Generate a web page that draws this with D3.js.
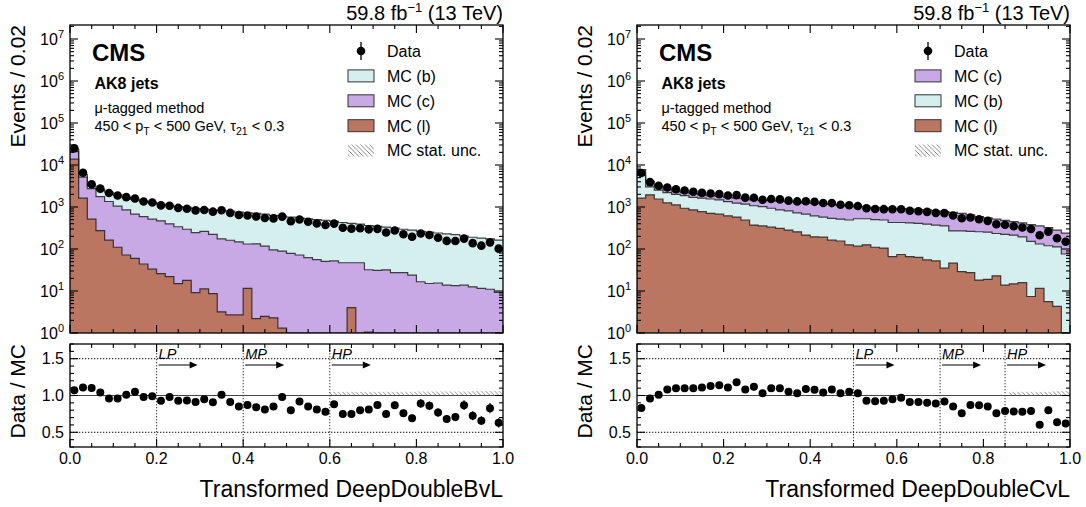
<!DOCTYPE html>
<html><head><meta charset="utf-8">
<script src="https://cdn.jsdelivr.net/npm/d3@7"></script>
<style>
body{margin:0;background:#fff}
svg{display:block}
text{font-family:"Liberation Sans",Arial,Helvetica,sans-serif;fill:#000}
</style>
</head><body>
<svg id="c" width="1086" height="507"></svg>
<script>
// ---------------- data ----------------
const xEdges = d3.range(51).map(i => +(i * 0.02).toFixed(2));
const xTickLabels = ["0.0", "0.2", "0.4", "0.6", "0.8", "1.0"];
const logTickExps = [0, 1, 2, 3, 4, 5, 6, 7];
const ratioTickLabels = ["0.5", "1.0", "1.5"];
const wpLabels = ["LP", "MP", "HP"];

// DeepDoubleBvL panel
const bvl_l = [13800,1620,513,275,162,110,72,60,44,33, 26,22,15,18,9.1,11.2,8.7,3.2,2.7,2.7,
  11.5,2.2,2.5,2.3,1.3,0,0,0,0,0, 0,0,4.0,0,1.05,0,0,0,0,0, 0,0,0,0,0,0,0,0,0,0];
const bvl_c = [7090,3510,2240,1500,1190,937,779,616,545,480, 442,376,324,277,236,252,215,171,159,145,
  120,130,115,93,88,79,72,62,56,51, 52,47,43,47,31,31,32,27.5,27.5,24, 16.6,15.1,15.5,13.8,13.5,13.8,12.6,11.5,11,9.3];
const bvl_b = [2550,759,408,852,890,903,847,838,791,775, 707,698,684,682,667,628,627,658,632,611,
  592,576,559,536,514,496,478,463,445,428, 405,380,360,342,331,316,299,289,268,258, 246,236,225,215,206,190,178,171,163,153];
const bvl_data = [25080,6536,3478,2735,2149,1872,1715,1590,1352,1275, 1093,1074,951,909,830,846,774,840,723,645,
  630,595,548,536,591,460,506,446,406,374, 402,320,305,311,294,302,248,275,224,195, 234,216,185,156,155,177,138,120,144,102];
const bvl_unc = [0,0,0,0,0,0,0,0,0,0, 0,0,0,0,0,0,0,0,0,0, 0,0,0,0,0,0,0,0,0,0,
  0.05,0.05,0.05,0.05,0.05,0.05,0.05,0.05,0.05,0.05, 0.055,0.055,0.055,0.055,0.055,0.055,0.06,0.06,0.06,0.06];
const bvl_wp = [0.2, 0.4, 0.6];

// DeepDoubleCvL panel
const cvl_l = [1622,1950,1549,1259,1122,933,851,776,708,676, 617,575,490,372,355,331,309,282,257,214,
  195,191,162,155,126,117,126,110,105,66, 74,66,63,55,52,35,46,29,27.5,18.2, 19,23,13.8,14.8,15.8,7.4,11.5,5.6,4.3,0];
const cvl_b = [4000,1070,963,929,873,929,847,846,841,803, 732,655,685,700,668,602,542,531,467,462,
  422,384,375,358,364,408,399,391,385,361, 353,351,344,334,320,320,223,240,236,239, 232,211,210,199,179,144,120,114,108,76];
const cvl_c = [2140,1054,650,504,404,377,391,328,313,299, 349,392,374,407,422,480,529,536,594,583,
  613,627,611,583,557,498,475,476,465,506, 485,474,464,462,441,421,472,439,383,332, 299,279,255,233,222,229,223,204,170,164];
const cvl_data = [6442,3911,3194,2907,2639,2463,2298,2165,2104,2027, 1885,1914,1673,1656,1488,1554,1518,1416,1358,1372,
  1328,1250,1240,1129,1099,1054,930,899,888,886, 885,811,793,766,724,714,630,538,562,512, 468,390,378,349,325,300,213,259,180,149];
const cvl_unc = [0,0,0,0,0,0,0,0,0,0, 0,0,0,0,0,0,0,0,0,0, 0,0,0,0,0,0,0,0,0,0,
  0,0,0,0,0,0,0,0,0,0, 0,0,0,0.05,0.05,0.05,0.05,0.05,0.06,0.06];
const cvl_wp = [0.5, 0.7, 0.85];

const COL_B = "#d4efed", COL_C = "#c8a8e5", COL_L = "#bb7662";

// ---------------- drawing ----------------
const svg = d3.select("#c");
const defs = svg.append("defs");
defs.append("pattern").attr("id", "hatch").attr("patternUnits", "userSpaceOnUse")
  .attr("width", 4.5).attr("height", 4.5)
  .append("path").attr("d", "M-1,-1L5.5,5.5M-1,3.5L1,5.5M3.5,-1L5.5,1")
  .attr("stroke", "#777").attr("stroke-width", 0.9).attr("fill", "none");

const MT = 25, MB = 333, RT = 344, RB = 447;

function supText(sel, base, sup, supSize) {
  sel.append("tspan").text(base);
  sel.append("tspan").attr("dy", -7).attr("font-size", supSize).text(sup);
}

function drawPanel(cfg) {
  const x = d3.scaleLinear().domain([0, 1]).range([cfg.x0, cfg.x1]);
  const y = d3.scaleLog().domain([1, Math.pow(10, (MB - MT) / 42)]).range([MB, MT]);
  const yr = d3.scaleLinear().domain([0.3, 1.7]).range([RB, RT]);
  const g = svg.append("g");
  const cid = "clip" + cfg.id;
  defs.append("clipPath").attr("id", cid).append("rect")
    .attr("x", cfg.x0).attr("y", MT).attr("width", cfg.x1 - cfg.x0).attr("height", MB - MT);
  const cidr = "clipr" + cfg.id;
  defs.append("clipPath").attr("id", cidr).append("rect")
    .attr("x", cfg.x0).attr("y", RT).attr("width", cfg.x1 - cfg.x0).attr("height", RB - RT);

  const layers = cfg.layers;
  let cum = new Array(50).fill(0);
  const cums = layers.map(L => { cum = cum.map((c, i) => c + L.values[i]); return cum.slice(); });
  const total = cums[cums.length - 1];
  const yc = v => y(Math.max(v, 1));
  const pts = arr => { const p = arr.map((v, i) => [xEdges[i], v]); p.push([xEdges[50], arr[49]]); return p; };
  const area = d3.area().curve(d3.curveStepAfter).x(d => x(d[0])).y0(MB).y1(d => yc(d[1]));
  const line = d3.line().curve(d3.curveStepAfter).x(d => x(d[0])).y(d => yc(d[1]));

  const mg = g.append("g").attr("clip-path", `url(#${cid})`);
  for (let k = layers.length - 1; k >= 0; k--) {
    mg.append("path").attr("d", area(pts(cums[k]))).attr("fill", layers[k].color);
  }
  for (let k = 0; k < layers.length; k++) {
    mg.append("path").attr("d", line(pts(cums[k]))).attr("fill", "none")
      .attr("stroke", "#222").attr("stroke-width", 1.2).attr("stroke-opacity", 0.85);
  }
  // data points
  const cx = i => x((xEdges[i] + xEdges[i + 1]) / 2);
  cfg.data.forEach((v, i) => {
    const e = Math.sqrt(v);
    mg.append("line").attr("x1", cx(i)).attr("x2", cx(i)).attr("y1", yc(v + e)).attr("y2", yc(v - e))
      .attr("stroke", "#000").attr("stroke-width", 1.2);
    mg.append("circle").attr("cx", cx(i)).attr("cy", y(v)).attr("r", 4.3).attr("fill", "#000");
  });

  // ratio panel
  const rg = g.append("g").attr("clip-path", `url(#${cidr})`);
  cfg.unc.forEach((u, i) => {
    if (u > 0) rg.append("rect").attr("x", x(xEdges[i])).attr("width", x(xEdges[i + 1]) - x(xEdges[i]))
      .attr("y", yr(1 + u)).attr("height", yr(1) - yr(1 + u)).attr("fill", "url(#hatch)");
  });
  [0.5, 1.5].forEach(v => rg.append("line").attr("x1", cfg.x0).attr("x2", cfg.x1).attr("y1", yr(v)).attr("y2", yr(v))
    .attr("stroke", "#000").attr("stroke-width", 1).attr("stroke-dasharray", "1.3,1.7"));
  rg.append("line").attr("x1", cfg.x0).attr("x2", cfg.x1).attr("y1", yr(1)).attr("y2", yr(1))
    .attr("stroke", "#444").attr("stroke-width", 1.2);
  cfg.wp.forEach((w, j) => {
    rg.append("line").attr("x1", x(w)).attr("x2", x(w)).attr("y1", RT).attr("y2", RB)
      .attr("stroke", "#333").attr("stroke-width", 1).attr("stroke-dasharray", "1.3,1.7");
    g.append("text").attr("x", x(w) + 2).attr("y", 359).attr("font-size", 14.5).attr("font-style", "italic")
      .text(wpLabels[j]);
    g.append("line").attr("x1", x(w) + 2).attr("x2", x(w) + 35).attr("y1", 365).attr("y2", 365)
      .attr("stroke", "#000").attr("stroke-width", 1.2);
    g.append("path").attr("d", `M${x(w) + 41},365 L${x(w) + 33},361.5 L${x(w) + 33},368.5 Z`).attr("fill", "#000");
  });
  cfg.data.forEach((v, i) => {
    const r = v / total[i], e = Math.sqrt(v) / total[i];
    rg.append("line").attr("x1", cx(i)).attr("x2", cx(i)).attr("y1", yr(r + e)).attr("y2", yr(r - e))
      .attr("stroke", "#000").attr("stroke-width", 1.2);
    rg.append("circle").attr("cx", cx(i)).attr("cy", yr(r)).attr("r", 4).attr("fill", "#000");
  });

  // frames and ticks
  const ax = g.append("g").attr("stroke", "#000").attr("stroke-width", 1.1);
  [[MT, MB], [RT, RB]].forEach(([t, b]) => {
    ax.append("rect").attr("x", cfg.x0).attr("y", t).attr("width", cfg.x1 - cfg.x0).attr("height", b - t)
      .attr("fill", "none").attr("stroke-width", 1.3);
    d3.range(0, 21).forEach(k => {
      const v = k * 0.05, L = (k % 4 === 0) ? 8 : 4;
      ax.append("line").attr("x1", x(v)).attr("x2", x(v)).attr("y1", b).attr("y2", b - L);
      ax.append("line").attr("x1", x(v)).attr("x2", x(v)).attr("y1", t).attr("y2", t + L);
    });
  });
  const ymax = y.domain()[1];
  logTickExps.forEach(p => {
    for (let m = 1; m <= 9; m++) {
      const v = m * Math.pow(10, p);
      if (v > ymax) break;
      const L = m === 1 ? 8 : 4;
      ax.append("line").attr("x1", cfg.x0).attr("x2", cfg.x0 + L).attr("y1", y(v)).attr("y2", y(v));
      ax.append("line").attr("x1", cfg.x1).attr("x2", cfg.x1 - L).attr("y1", y(v)).attr("y2", y(v));
    }
    const t = g.append("text").attr("x", cfg.x0 - 6).attr("y", y(Math.pow(10, p)) + 6)
      .attr("text-anchor", "end").attr("font-size", 16);
    supText(t, "10", String(p), 11);
  });
  d3.range(3, 18).forEach(k => {
    const v = k / 10, L = (k % 5 === 0) ? 8 : 4;
    ax.append("line").attr("x1", cfg.x0).attr("x2", cfg.x0 + L).attr("y1", yr(v)).attr("y2", yr(v));
    ax.append("line").attr("x1", cfg.x1).attr("x2", cfg.x1 - L).attr("y1", yr(v)).attr("y2", yr(v));
  });
  ratioTickLabels.forEach(s => {
    g.append("text").attr("x", cfg.x0 - 6).attr("y", yr(+s) + 5.5).attr("text-anchor", "end")
      .attr("font-size", 16).text(s);
  });
  xTickLabels.forEach(s => {
    g.append("text").attr("x", x(+s)).attr("y", 464).attr("text-anchor", "middle")
      .attr("font-size", 16).text(s);
  });

  // axis titles
  g.append("text").attr("x", cfg.x1).attr("y", 497).attr("text-anchor", "end").attr("font-size", 23)
    .text(cfg.xlabel);
  g.append("text").attr("transform", `translate(${cfg.x0 - 45},${MT}) rotate(-90)`).attr("text-anchor", "end")
    .attr("font-size", 21).text("Events / 0.02");
  g.append("text").attr("transform", `translate(${cfg.x0 - 45},${RT}) rotate(-90)`).attr("text-anchor", "end")
    .attr("font-size", 21).text("Data / MC");

  // lumi
  const lt = g.append("text").attr("x", cfg.x1).attr("y", 20).attr("text-anchor", "end").attr("font-size", 20);
  lt.append("tspan").text("59.8 fb");
  lt.append("tspan").attr("dy", -8).attr("font-size", 13).text("\u22121");
  lt.append("tspan").attr("dy", 8).text(" (13 TeV)");

  // labels
  g.append("text").attr("x", cfg.x0 + 22).attr("y", 61).attr("font-size", 24).attr("font-weight", "bold").text("CMS");
  g.append("text").attr("x", cfg.x0 + 24.5).attr("y", 89).attr("font-size", 16).attr("font-weight", "bold").text("AK8 jets");
  g.append("text").attr("x", cfg.x0 + 24.5).attr("y", 113).attr("font-size", 14.5).text("\u03bc-tagged method");
  const kt = g.append("text").attr("x", cfg.x0 + 24.5).attr("y", 131).attr("font-size", 14.5);
  kt.append("tspan").text("450 < p");
  kt.append("tspan").attr("dy", 4).attr("font-size", 10.5).text("T");
  kt.append("tspan").attr("dy", -4).text(" < 500 GeV, \u03c4");
  kt.append("tspan").attr("dy", 4).attr("font-size", 10.5).text("21");
  kt.append("tspan").attr("dy", -4).text(" < 0.3");

  // legend
  const bx = cfg.x0 + 278, tx = cfg.x0 + 317;
  const rowY = i => 51 + 24.9 * i;
  g.append("circle").attr("cx", bx + 13).attr("cy", rowY(0)).attr("r", 4.3).attr("fill", "#000");
  g.append("line").attr("x1", bx + 13).attr("x2", bx + 13).attr("y1", rowY(0) - 9).attr("y2", rowY(0) + 9)
    .attr("stroke", "#000").attr("stroke-width", 1.3);
  g.append("text").attr("x", tx).attr("y", rowY(0) + 5.8).attr("font-size", 16).text("Data");
  cfg.legend.forEach((L, j) => {
    const yy = rowY(j + 1);
    g.append("rect").attr("x", bx).attr("y", yy - 6).attr("width", 26).attr("height", 12)
      .attr("fill", L.color).attr("stroke", "#333").attr("stroke-width", 1);
    g.append("text").attr("x", tx).attr("y", yy + 5.8).attr("font-size", 16).text(L.name);
  });
  const yy = rowY(4);
  g.append("rect").attr("x", bx).attr("y", yy - 6).attr("width", 26).attr("height", 12).attr("fill", "url(#hatch)");
  g.append("text").attr("x", tx).attr("y", yy + 5.8).attr("font-size", 16).text("MC stat. unc.");
}

drawPanel({
  id: "L", x0: 70, x1: 503, xlabel: "Transformed DeepDoubleBvL",
  layers: [{ values: bvl_l, color: COL_L }, { values: bvl_c, color: COL_C }, { values: bvl_b, color: COL_B }],
  legend: [{ name: "MC (b)", color: COL_B }, { name: "MC (c)", color: COL_C }, { name: "MC (l)", color: COL_L }],
  data: bvl_data, unc: bvl_unc, wp: bvl_wp
});
drawPanel({
  id: "R", x0: 637, x1: 1070, xlabel: "Transformed DeepDoubleCvL",
  layers: [{ values: cvl_l, color: COL_L }, { values: cvl_b, color: COL_B }, { values: cvl_c, color: COL_C }],
  legend: [{ name: "MC (c)", color: COL_C }, { name: "MC (b)", color: COL_B }, { name: "MC (l)", color: COL_L }],
  data: cvl_data, unc: cvl_unc, wp: cvl_wp
});
</script>
</body></html>
